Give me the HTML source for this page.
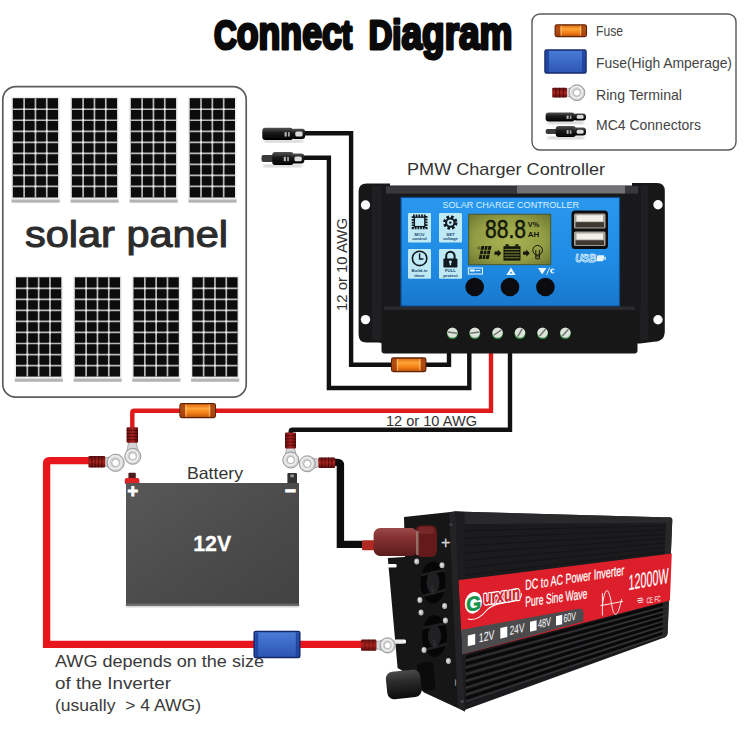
<!DOCTYPE html>
<html lang="en"><head><meta charset="utf-8"><title>Connect Diagram</title>
<style>
html,body{margin:0;padding:0;background:#fff;}
body{width:750px;height:750px;overflow:hidden;}
svg{display:block;}
text{font-family:"Liberation Sans","DejaVu Sans",sans-serif;}
</style></head><body>
<svg width="750" height="750" viewBox="0 0 750 750">
<defs>
<linearGradient id="gOr" x1="0" y1="0" x2="0" y2="1">
 <stop offset="0" stop-color="#d9660f"/><stop offset="0.35" stop-color="#ffa436"/><stop offset="0.7" stop-color="#f07d14"/><stop offset="1" stop-color="#b9500c"/>
</linearGradient>
<linearGradient id="gBlue" x1="0" y1="0" x2="0" y2="1">
 <stop offset="0" stop-color="#4a7cd6"/><stop offset="0.5" stop-color="#3a69c6"/><stop offset="1" stop-color="#2c55b0"/>
</linearGradient>
<linearGradient id="gFace" x1="0" y1="0" x2="0" y2="1">
 <stop offset="0" stop-color="#2a98ee"/><stop offset="0.6" stop-color="#1f8be4"/><stop offset="1" stop-color="#1878cc"/>
</linearGradient>
<radialGradient id="gLcd" cx="0.5" cy="0.5" r="0.7">
 <stop offset="0" stop-color="#aab454"/><stop offset="0.6" stop-color="#929d44"/><stop offset="1" stop-color="#6c7632"/>
</radialGradient>
<linearGradient id="gBat" x1="0" y1="0" x2="1" y2="1">
 <stop offset="0" stop-color="#585858"/><stop offset="0.5" stop-color="#4c4c4c"/><stop offset="1" stop-color="#424242"/>
</linearGradient>
<linearGradient id="gCrimp" x1="0" y1="0" x2="0" y2="1">
 <stop offset="0" stop-color="#5e1010"/><stop offset="0.5" stop-color="#ac2420"/><stop offset="1" stop-color="#580c0c"/>
</linearGradient>
<linearGradient id="gCrimpV" x1="0" y1="0" x2="1" y2="0">
 <stop offset="0" stop-color="#5e1010"/><stop offset="0.5" stop-color="#ac2420"/><stop offset="1" stop-color="#580c0c"/>
</linearGradient>
<linearGradient id="gKnobR" x1="0" y1="0" x2="0" y2="1">
 <stop offset="0" stop-color="#9a4a48"/><stop offset="0.35" stop-color="#853232"/><stop offset="1" stop-color="#5c1a1a"/>
</linearGradient>
<linearGradient id="gKnobB" x1="0" y1="0" x2="0" y2="1">
 <stop offset="0" stop-color="#4a4a4a"/><stop offset="0.4" stop-color="#2a2a2a"/><stop offset="1" stop-color="#0c0c0c"/>
</linearGradient>
<linearGradient id="gSide" x1="0" y1="0" x2="0" y2="1">
 <stop offset="0" stop-color="#2c2c2e"/><stop offset="1" stop-color="#161617"/>
</linearGradient>
<linearGradient id="gRed" x1="0" y1="0" x2="1" y2="0">
 <stop offset="0" stop-color="#e0202c"/><stop offset="1" stop-color="#d81c28"/>
</linearGradient>
<linearGradient id="gMc" x1="0" y1="0" x2="0" y2="1">
 <stop offset="0" stop-color="#555"/><stop offset="0.4" stop-color="#1c1c1c"/><stop offset="1" stop-color="#000"/>
</linearGradient>
<filter id="b05" x="-5%" y="-5%" width="110%" height="110%"><feGaussianBlur stdDeviation="0.5"/></filter>
<filter id="b08" x="-5%" y="-5%" width="110%" height="110%"><feGaussianBlur stdDeviation="0.8"/></filter>
<filter id="b15" x="-10%" y="-10%" width="120%" height="120%"><feGaussianBlur stdDeviation="1.5"/></filter>
</defs>
<rect width="750" height="750" fill="#ffffff"/>

<g font-weight="bold" fill="#0a0a0a" stroke="#0a0a0a" stroke-width="3.1" stroke-linejoin="round"><g transform="translate(214,48.6) scale(0.768,1)"><text x="0" y="0"><tspan font-size="41">C</tspan><tspan font-size="46.5">onnec</tspan><tspan font-size="40.5">t</tspan></text></g><g transform="translate(368.8,48.6) scale(0.796,1)"><text x="0" y="0"><tspan font-size="41">Di</tspan><tspan font-size="46.5">agram</tspan></text></g></g>
<g id="legend">
<rect x="532" y="14" width="204" height="136" rx="8" ry="8" fill="#fff" stroke="#585858" stroke-width="1.4"/>
<g><rect x="555.2" y="24.8" width="31.2" height="11.8" rx="1.8" fill="url(#gOr)" stroke="#5e2208" stroke-width="1.3"/><rect x="555.8000000000001" y="25.400000000000002" width="4.4" height="10.600000000000001" fill="#9c3a0c" opacity="0.8"/><rect x="581.4000000000001" y="25.400000000000002" width="4.4" height="10.600000000000001" fill="#9c3a0c" opacity="0.8"/><rect x="560.8000000000001" y="25.8" width="0.9" height="9.8" fill="#ffd9a0" opacity="0.7"/><rect x="579.9000000000001" y="25.8" width="0.9" height="9.8" fill="#ffd9a0" opacity="0.7"/></g>
<g><rect x="545" y="50" width="41" height="23" rx="1.5" fill="url(#gBlue)" stroke="#14296a" stroke-width="1.5"/><rect x="546" y="51" width="3" height="21" fill="#1c3f98" opacity="0.8"/><rect x="582" y="51" width="3" height="21" fill="#1c3f98" opacity="0.8"/></g>
<polygon points="566.6,95.8 566.6,89.4 577.0,85.9 576.8,99.5" fill="#d6d7d9" stroke="#9a9a9c" stroke-width="0.8"/><circle cx="576.9" cy="92.7" r="7.9" fill="#d3d4d6" stroke="#97979a" stroke-width="1"/><circle cx="576.4" cy="92.2" r="5.7" fill="none" stroke="#eeeeef" stroke-width="1.6"/><circle cx="576.9" cy="92.7" r="3.5" fill="#fff" stroke="#a2a2a4" stroke-width="0.8"/>
<rect x="552.2" y="87.8" width="14.8" height="9.8" rx="1" fill="url(#gCrimp)"/><line x1="555.9" y1="87.8" x2="555.9" y2="97.6" stroke="#3a0606" stroke-width="0.9" opacity="0.75"/><line x1="559.6" y1="87.8" x2="559.6" y2="97.6" stroke="#3a0606" stroke-width="0.9" opacity="0.75"/><line x1="563.3" y1="87.8" x2="563.3" y2="97.6" stroke="#3a0606" stroke-width="0.9" opacity="0.75"/>
<rect x="547.6" y="121.4" width="36.4" height="2.6" fill="#cfcfcf" filter="url(#b08)"/><g filter="url(#b05)"><rect x="545.6" y="112.4" width="29.1" height="9" rx="3" fill="url(#gMc)"/><rect x="573.1" y="113.4" width="12.9" height="7" rx="3" fill="url(#gMc)"/><rect x="576.7" y="115.1" width="6.9" height="3.7" rx="1.5" fill="#dcdcdc"/><rect x="566.6" y="115.6" width="2.0" height="3.3" fill="#bbb"/><rect x="569.8" y="115.6" width="1.6" height="3.3" fill="#aaa"/></g>
<rect x="547.6" y="136.6" width="36.4" height="2.6" fill="#cfcfcf" filter="url(#b08)"/><g filter="url(#b05)"><rect x="545.6" y="129.1" width="12.1" height="5" rx="2" fill="#3a3a3a"/><rect x="555.7" y="126.1" width="20.2" height="11" rx="3" fill="url(#gMc)"/><rect x="573.1" y="127.6" width="12.9" height="8" rx="3" fill="url(#gMc)"/><rect x="576.7" y="129.7" width="6.9" height="4.1" rx="1.5" fill="#dcdcdc"/><rect x="566.6" y="130.2" width="2.0" height="3.6" fill="#bbb"/><rect x="569.8" y="130.2" width="1.6" height="3.6" fill="#aaa"/></g>
<g font-size="14.3" fill="#444">
<text x="596" y="36" textLength="27" lengthAdjust="spacingAndGlyphs">Fuse</text>
<text x="596" y="68" textLength="136" lengthAdjust="spacingAndGlyphs">Fuse(High Amperage)</text>
<text x="596" y="100" textLength="86" lengthAdjust="spacingAndGlyphs">Ring Terminal</text>
<text x="596" y="130" textLength="105" lengthAdjust="spacingAndGlyphs">MC4 Connectors</text>
</g></g>
<g id="solar">
<rect x="2.8" y="86.6" width="243.4" height="310.6" rx="13" ry="13" fill="#fff" stroke="#5c5c5c" stroke-width="1.7"/>
<g><rect x="11.600000000000001" y="199.1" width="48.099999999999994" height="3.6" fill="#b4b4b4" filter="url(#b05)"/><rect x="11.200000000000001" y="96.8" width="48.5" height="102.7" fill="#ececec"/><rect x="12.8" y="98.2" width="45.3" height="99.3" fill="#0c0c0c"/><line x1="24.12" y1="98.2" x2="24.12" y2="197.5" stroke="#b9b9b9" stroke-width="1.7"/><line x1="35.45" y1="98.2" x2="35.45" y2="197.5" stroke="#b9b9b9" stroke-width="1.7"/><line x1="46.77" y1="98.2" x2="46.77" y2="197.5" stroke="#b9b9b9" stroke-width="1.7"/><line x1="12.8" y1="109.23" x2="58.099999999999994" y2="109.23" stroke="#b9b9b9" stroke-width="1.7"/><line x1="12.8" y1="120.27" x2="58.099999999999994" y2="120.27" stroke="#b9b9b9" stroke-width="1.7"/><line x1="12.8" y1="131.30" x2="58.099999999999994" y2="131.30" stroke="#b9b9b9" stroke-width="1.7"/><line x1="12.8" y1="142.33" x2="58.099999999999994" y2="142.33" stroke="#b9b9b9" stroke-width="1.7"/><line x1="12.8" y1="153.37" x2="58.099999999999994" y2="153.37" stroke="#b9b9b9" stroke-width="1.7"/><line x1="12.8" y1="164.40" x2="58.099999999999994" y2="164.40" stroke="#b9b9b9" stroke-width="1.7"/><line x1="12.8" y1="175.43" x2="58.099999999999994" y2="175.43" stroke="#b9b9b9" stroke-width="1.7"/><line x1="12.8" y1="186.47" x2="58.099999999999994" y2="186.47" stroke="#b9b9b9" stroke-width="1.7"/><rect x="23.12" y="108.23" width="2" height="2" fill="#f2f2f2"/><rect x="23.12" y="119.27" width="2" height="2" fill="#f2f2f2"/><rect x="23.12" y="130.30" width="2" height="2" fill="#f2f2f2"/><rect x="23.12" y="141.33" width="2" height="2" fill="#f2f2f2"/><rect x="23.12" y="152.37" width="2" height="2" fill="#f2f2f2"/><rect x="23.12" y="163.40" width="2" height="2" fill="#f2f2f2"/><rect x="23.12" y="174.43" width="2" height="2" fill="#f2f2f2"/><rect x="23.12" y="185.47" width="2" height="2" fill="#f2f2f2"/><rect x="34.45" y="108.23" width="2" height="2" fill="#f2f2f2"/><rect x="34.45" y="119.27" width="2" height="2" fill="#f2f2f2"/><rect x="34.45" y="130.30" width="2" height="2" fill="#f2f2f2"/><rect x="34.45" y="141.33" width="2" height="2" fill="#f2f2f2"/><rect x="34.45" y="152.37" width="2" height="2" fill="#f2f2f2"/><rect x="34.45" y="163.40" width="2" height="2" fill="#f2f2f2"/><rect x="34.45" y="174.43" width="2" height="2" fill="#f2f2f2"/><rect x="34.45" y="185.47" width="2" height="2" fill="#f2f2f2"/><rect x="45.77" y="108.23" width="2" height="2" fill="#f2f2f2"/><rect x="45.77" y="119.27" width="2" height="2" fill="#f2f2f2"/><rect x="45.77" y="130.30" width="2" height="2" fill="#f2f2f2"/><rect x="45.77" y="141.33" width="2" height="2" fill="#f2f2f2"/><rect x="45.77" y="152.37" width="2" height="2" fill="#f2f2f2"/><rect x="45.77" y="163.40" width="2" height="2" fill="#f2f2f2"/><rect x="45.77" y="174.43" width="2" height="2" fill="#f2f2f2"/><rect x="45.77" y="185.47" width="2" height="2" fill="#f2f2f2"/></g>
<g><rect x="70.6" y="199.1" width="48.099999999999994" height="3.6" fill="#b4b4b4" filter="url(#b05)"/><rect x="70.2" y="96.8" width="48.5" height="102.7" fill="#ececec"/><rect x="71.8" y="98.2" width="45.3" height="99.3" fill="#0c0c0c"/><line x1="83.12" y1="98.2" x2="83.12" y2="197.5" stroke="#b9b9b9" stroke-width="1.7"/><line x1="94.45" y1="98.2" x2="94.45" y2="197.5" stroke="#b9b9b9" stroke-width="1.7"/><line x1="105.77" y1="98.2" x2="105.77" y2="197.5" stroke="#b9b9b9" stroke-width="1.7"/><line x1="71.8" y1="109.23" x2="117.1" y2="109.23" stroke="#b9b9b9" stroke-width="1.7"/><line x1="71.8" y1="120.27" x2="117.1" y2="120.27" stroke="#b9b9b9" stroke-width="1.7"/><line x1="71.8" y1="131.30" x2="117.1" y2="131.30" stroke="#b9b9b9" stroke-width="1.7"/><line x1="71.8" y1="142.33" x2="117.1" y2="142.33" stroke="#b9b9b9" stroke-width="1.7"/><line x1="71.8" y1="153.37" x2="117.1" y2="153.37" stroke="#b9b9b9" stroke-width="1.7"/><line x1="71.8" y1="164.40" x2="117.1" y2="164.40" stroke="#b9b9b9" stroke-width="1.7"/><line x1="71.8" y1="175.43" x2="117.1" y2="175.43" stroke="#b9b9b9" stroke-width="1.7"/><line x1="71.8" y1="186.47" x2="117.1" y2="186.47" stroke="#b9b9b9" stroke-width="1.7"/><rect x="82.12" y="108.23" width="2" height="2" fill="#f2f2f2"/><rect x="82.12" y="119.27" width="2" height="2" fill="#f2f2f2"/><rect x="82.12" y="130.30" width="2" height="2" fill="#f2f2f2"/><rect x="82.12" y="141.33" width="2" height="2" fill="#f2f2f2"/><rect x="82.12" y="152.37" width="2" height="2" fill="#f2f2f2"/><rect x="82.12" y="163.40" width="2" height="2" fill="#f2f2f2"/><rect x="82.12" y="174.43" width="2" height="2" fill="#f2f2f2"/><rect x="82.12" y="185.47" width="2" height="2" fill="#f2f2f2"/><rect x="93.45" y="108.23" width="2" height="2" fill="#f2f2f2"/><rect x="93.45" y="119.27" width="2" height="2" fill="#f2f2f2"/><rect x="93.45" y="130.30" width="2" height="2" fill="#f2f2f2"/><rect x="93.45" y="141.33" width="2" height="2" fill="#f2f2f2"/><rect x="93.45" y="152.37" width="2" height="2" fill="#f2f2f2"/><rect x="93.45" y="163.40" width="2" height="2" fill="#f2f2f2"/><rect x="93.45" y="174.43" width="2" height="2" fill="#f2f2f2"/><rect x="93.45" y="185.47" width="2" height="2" fill="#f2f2f2"/><rect x="104.77" y="108.23" width="2" height="2" fill="#f2f2f2"/><rect x="104.77" y="119.27" width="2" height="2" fill="#f2f2f2"/><rect x="104.77" y="130.30" width="2" height="2" fill="#f2f2f2"/><rect x="104.77" y="141.33" width="2" height="2" fill="#f2f2f2"/><rect x="104.77" y="152.37" width="2" height="2" fill="#f2f2f2"/><rect x="104.77" y="163.40" width="2" height="2" fill="#f2f2f2"/><rect x="104.77" y="174.43" width="2" height="2" fill="#f2f2f2"/><rect x="104.77" y="185.47" width="2" height="2" fill="#f2f2f2"/></g>
<g><rect x="129.60000000000002" y="199.1" width="48.099999999999994" height="3.6" fill="#b4b4b4" filter="url(#b05)"/><rect x="129.20000000000002" y="96.8" width="48.5" height="102.7" fill="#ececec"/><rect x="130.8" y="98.2" width="45.3" height="99.3" fill="#0c0c0c"/><line x1="142.12" y1="98.2" x2="142.12" y2="197.5" stroke="#b9b9b9" stroke-width="1.7"/><line x1="153.45" y1="98.2" x2="153.45" y2="197.5" stroke="#b9b9b9" stroke-width="1.7"/><line x1="164.78" y1="98.2" x2="164.78" y2="197.5" stroke="#b9b9b9" stroke-width="1.7"/><line x1="130.8" y1="109.23" x2="176.10000000000002" y2="109.23" stroke="#b9b9b9" stroke-width="1.7"/><line x1="130.8" y1="120.27" x2="176.10000000000002" y2="120.27" stroke="#b9b9b9" stroke-width="1.7"/><line x1="130.8" y1="131.30" x2="176.10000000000002" y2="131.30" stroke="#b9b9b9" stroke-width="1.7"/><line x1="130.8" y1="142.33" x2="176.10000000000002" y2="142.33" stroke="#b9b9b9" stroke-width="1.7"/><line x1="130.8" y1="153.37" x2="176.10000000000002" y2="153.37" stroke="#b9b9b9" stroke-width="1.7"/><line x1="130.8" y1="164.40" x2="176.10000000000002" y2="164.40" stroke="#b9b9b9" stroke-width="1.7"/><line x1="130.8" y1="175.43" x2="176.10000000000002" y2="175.43" stroke="#b9b9b9" stroke-width="1.7"/><line x1="130.8" y1="186.47" x2="176.10000000000002" y2="186.47" stroke="#b9b9b9" stroke-width="1.7"/><rect x="141.12" y="108.23" width="2" height="2" fill="#f2f2f2"/><rect x="141.12" y="119.27" width="2" height="2" fill="#f2f2f2"/><rect x="141.12" y="130.30" width="2" height="2" fill="#f2f2f2"/><rect x="141.12" y="141.33" width="2" height="2" fill="#f2f2f2"/><rect x="141.12" y="152.37" width="2" height="2" fill="#f2f2f2"/><rect x="141.12" y="163.40" width="2" height="2" fill="#f2f2f2"/><rect x="141.12" y="174.43" width="2" height="2" fill="#f2f2f2"/><rect x="141.12" y="185.47" width="2" height="2" fill="#f2f2f2"/><rect x="152.45" y="108.23" width="2" height="2" fill="#f2f2f2"/><rect x="152.45" y="119.27" width="2" height="2" fill="#f2f2f2"/><rect x="152.45" y="130.30" width="2" height="2" fill="#f2f2f2"/><rect x="152.45" y="141.33" width="2" height="2" fill="#f2f2f2"/><rect x="152.45" y="152.37" width="2" height="2" fill="#f2f2f2"/><rect x="152.45" y="163.40" width="2" height="2" fill="#f2f2f2"/><rect x="152.45" y="174.43" width="2" height="2" fill="#f2f2f2"/><rect x="152.45" y="185.47" width="2" height="2" fill="#f2f2f2"/><rect x="163.78" y="108.23" width="2" height="2" fill="#f2f2f2"/><rect x="163.78" y="119.27" width="2" height="2" fill="#f2f2f2"/><rect x="163.78" y="130.30" width="2" height="2" fill="#f2f2f2"/><rect x="163.78" y="141.33" width="2" height="2" fill="#f2f2f2"/><rect x="163.78" y="152.37" width="2" height="2" fill="#f2f2f2"/><rect x="163.78" y="163.40" width="2" height="2" fill="#f2f2f2"/><rect x="163.78" y="174.43" width="2" height="2" fill="#f2f2f2"/><rect x="163.78" y="185.47" width="2" height="2" fill="#f2f2f2"/></g>
<g><rect x="188.5" y="199.1" width="48.099999999999994" height="3.6" fill="#b4b4b4" filter="url(#b05)"/><rect x="188.1" y="96.8" width="48.5" height="102.7" fill="#ececec"/><rect x="189.7" y="98.2" width="45.3" height="99.3" fill="#0c0c0c"/><line x1="201.02" y1="98.2" x2="201.02" y2="197.5" stroke="#b9b9b9" stroke-width="1.7"/><line x1="212.35" y1="98.2" x2="212.35" y2="197.5" stroke="#b9b9b9" stroke-width="1.7"/><line x1="223.67" y1="98.2" x2="223.67" y2="197.5" stroke="#b9b9b9" stroke-width="1.7"/><line x1="189.7" y1="109.23" x2="235.0" y2="109.23" stroke="#b9b9b9" stroke-width="1.7"/><line x1="189.7" y1="120.27" x2="235.0" y2="120.27" stroke="#b9b9b9" stroke-width="1.7"/><line x1="189.7" y1="131.30" x2="235.0" y2="131.30" stroke="#b9b9b9" stroke-width="1.7"/><line x1="189.7" y1="142.33" x2="235.0" y2="142.33" stroke="#b9b9b9" stroke-width="1.7"/><line x1="189.7" y1="153.37" x2="235.0" y2="153.37" stroke="#b9b9b9" stroke-width="1.7"/><line x1="189.7" y1="164.40" x2="235.0" y2="164.40" stroke="#b9b9b9" stroke-width="1.7"/><line x1="189.7" y1="175.43" x2="235.0" y2="175.43" stroke="#b9b9b9" stroke-width="1.7"/><line x1="189.7" y1="186.47" x2="235.0" y2="186.47" stroke="#b9b9b9" stroke-width="1.7"/><rect x="200.02" y="108.23" width="2" height="2" fill="#f2f2f2"/><rect x="200.02" y="119.27" width="2" height="2" fill="#f2f2f2"/><rect x="200.02" y="130.30" width="2" height="2" fill="#f2f2f2"/><rect x="200.02" y="141.33" width="2" height="2" fill="#f2f2f2"/><rect x="200.02" y="152.37" width="2" height="2" fill="#f2f2f2"/><rect x="200.02" y="163.40" width="2" height="2" fill="#f2f2f2"/><rect x="200.02" y="174.43" width="2" height="2" fill="#f2f2f2"/><rect x="200.02" y="185.47" width="2" height="2" fill="#f2f2f2"/><rect x="211.35" y="108.23" width="2" height="2" fill="#f2f2f2"/><rect x="211.35" y="119.27" width="2" height="2" fill="#f2f2f2"/><rect x="211.35" y="130.30" width="2" height="2" fill="#f2f2f2"/><rect x="211.35" y="141.33" width="2" height="2" fill="#f2f2f2"/><rect x="211.35" y="152.37" width="2" height="2" fill="#f2f2f2"/><rect x="211.35" y="163.40" width="2" height="2" fill="#f2f2f2"/><rect x="211.35" y="174.43" width="2" height="2" fill="#f2f2f2"/><rect x="211.35" y="185.47" width="2" height="2" fill="#f2f2f2"/><rect x="222.67" y="108.23" width="2" height="2" fill="#f2f2f2"/><rect x="222.67" y="119.27" width="2" height="2" fill="#f2f2f2"/><rect x="222.67" y="130.30" width="2" height="2" fill="#f2f2f2"/><rect x="222.67" y="141.33" width="2" height="2" fill="#f2f2f2"/><rect x="222.67" y="152.37" width="2" height="2" fill="#f2f2f2"/><rect x="222.67" y="163.40" width="2" height="2" fill="#f2f2f2"/><rect x="222.67" y="174.43" width="2" height="2" fill="#f2f2f2"/><rect x="222.67" y="185.47" width="2" height="2" fill="#f2f2f2"/></g>
<g><rect x="14.8" y="378.20000000000005" width="48.099999999999994" height="3.6" fill="#b4b4b4" filter="url(#b05)"/><rect x="14.4" y="275.90000000000003" width="48.5" height="102.7" fill="#ececec"/><rect x="16" y="277.3" width="45.3" height="99.3" fill="#0c0c0c"/><line x1="27.32" y1="277.3" x2="27.32" y2="376.6" stroke="#b9b9b9" stroke-width="1.7"/><line x1="38.65" y1="277.3" x2="38.65" y2="376.6" stroke="#b9b9b9" stroke-width="1.7"/><line x1="49.97" y1="277.3" x2="49.97" y2="376.6" stroke="#b9b9b9" stroke-width="1.7"/><line x1="16" y1="288.33" x2="61.3" y2="288.33" stroke="#b9b9b9" stroke-width="1.7"/><line x1="16" y1="299.37" x2="61.3" y2="299.37" stroke="#b9b9b9" stroke-width="1.7"/><line x1="16" y1="310.40" x2="61.3" y2="310.40" stroke="#b9b9b9" stroke-width="1.7"/><line x1="16" y1="321.43" x2="61.3" y2="321.43" stroke="#b9b9b9" stroke-width="1.7"/><line x1="16" y1="332.47" x2="61.3" y2="332.47" stroke="#b9b9b9" stroke-width="1.7"/><line x1="16" y1="343.50" x2="61.3" y2="343.50" stroke="#b9b9b9" stroke-width="1.7"/><line x1="16" y1="354.53" x2="61.3" y2="354.53" stroke="#b9b9b9" stroke-width="1.7"/><line x1="16" y1="365.57" x2="61.3" y2="365.57" stroke="#b9b9b9" stroke-width="1.7"/><rect x="26.32" y="287.33" width="2" height="2" fill="#f2f2f2"/><rect x="26.32" y="298.37" width="2" height="2" fill="#f2f2f2"/><rect x="26.32" y="309.40" width="2" height="2" fill="#f2f2f2"/><rect x="26.32" y="320.43" width="2" height="2" fill="#f2f2f2"/><rect x="26.32" y="331.47" width="2" height="2" fill="#f2f2f2"/><rect x="26.32" y="342.50" width="2" height="2" fill="#f2f2f2"/><rect x="26.32" y="353.53" width="2" height="2" fill="#f2f2f2"/><rect x="26.32" y="364.57" width="2" height="2" fill="#f2f2f2"/><rect x="37.65" y="287.33" width="2" height="2" fill="#f2f2f2"/><rect x="37.65" y="298.37" width="2" height="2" fill="#f2f2f2"/><rect x="37.65" y="309.40" width="2" height="2" fill="#f2f2f2"/><rect x="37.65" y="320.43" width="2" height="2" fill="#f2f2f2"/><rect x="37.65" y="331.47" width="2" height="2" fill="#f2f2f2"/><rect x="37.65" y="342.50" width="2" height="2" fill="#f2f2f2"/><rect x="37.65" y="353.53" width="2" height="2" fill="#f2f2f2"/><rect x="37.65" y="364.57" width="2" height="2" fill="#f2f2f2"/><rect x="48.97" y="287.33" width="2" height="2" fill="#f2f2f2"/><rect x="48.97" y="298.37" width="2" height="2" fill="#f2f2f2"/><rect x="48.97" y="309.40" width="2" height="2" fill="#f2f2f2"/><rect x="48.97" y="320.43" width="2" height="2" fill="#f2f2f2"/><rect x="48.97" y="331.47" width="2" height="2" fill="#f2f2f2"/><rect x="48.97" y="342.50" width="2" height="2" fill="#f2f2f2"/><rect x="48.97" y="353.53" width="2" height="2" fill="#f2f2f2"/><rect x="48.97" y="364.57" width="2" height="2" fill="#f2f2f2"/></g>
<g><rect x="73.6" y="378.20000000000005" width="48.099999999999994" height="3.6" fill="#b4b4b4" filter="url(#b05)"/><rect x="73.2" y="275.90000000000003" width="48.5" height="102.7" fill="#ececec"/><rect x="74.8" y="277.3" width="45.3" height="99.3" fill="#0c0c0c"/><line x1="86.12" y1="277.3" x2="86.12" y2="376.6" stroke="#b9b9b9" stroke-width="1.7"/><line x1="97.45" y1="277.3" x2="97.45" y2="376.6" stroke="#b9b9b9" stroke-width="1.7"/><line x1="108.77" y1="277.3" x2="108.77" y2="376.6" stroke="#b9b9b9" stroke-width="1.7"/><line x1="74.8" y1="288.33" x2="120.1" y2="288.33" stroke="#b9b9b9" stroke-width="1.7"/><line x1="74.8" y1="299.37" x2="120.1" y2="299.37" stroke="#b9b9b9" stroke-width="1.7"/><line x1="74.8" y1="310.40" x2="120.1" y2="310.40" stroke="#b9b9b9" stroke-width="1.7"/><line x1="74.8" y1="321.43" x2="120.1" y2="321.43" stroke="#b9b9b9" stroke-width="1.7"/><line x1="74.8" y1="332.47" x2="120.1" y2="332.47" stroke="#b9b9b9" stroke-width="1.7"/><line x1="74.8" y1="343.50" x2="120.1" y2="343.50" stroke="#b9b9b9" stroke-width="1.7"/><line x1="74.8" y1="354.53" x2="120.1" y2="354.53" stroke="#b9b9b9" stroke-width="1.7"/><line x1="74.8" y1="365.57" x2="120.1" y2="365.57" stroke="#b9b9b9" stroke-width="1.7"/><rect x="85.12" y="287.33" width="2" height="2" fill="#f2f2f2"/><rect x="85.12" y="298.37" width="2" height="2" fill="#f2f2f2"/><rect x="85.12" y="309.40" width="2" height="2" fill="#f2f2f2"/><rect x="85.12" y="320.43" width="2" height="2" fill="#f2f2f2"/><rect x="85.12" y="331.47" width="2" height="2" fill="#f2f2f2"/><rect x="85.12" y="342.50" width="2" height="2" fill="#f2f2f2"/><rect x="85.12" y="353.53" width="2" height="2" fill="#f2f2f2"/><rect x="85.12" y="364.57" width="2" height="2" fill="#f2f2f2"/><rect x="96.45" y="287.33" width="2" height="2" fill="#f2f2f2"/><rect x="96.45" y="298.37" width="2" height="2" fill="#f2f2f2"/><rect x="96.45" y="309.40" width="2" height="2" fill="#f2f2f2"/><rect x="96.45" y="320.43" width="2" height="2" fill="#f2f2f2"/><rect x="96.45" y="331.47" width="2" height="2" fill="#f2f2f2"/><rect x="96.45" y="342.50" width="2" height="2" fill="#f2f2f2"/><rect x="96.45" y="353.53" width="2" height="2" fill="#f2f2f2"/><rect x="96.45" y="364.57" width="2" height="2" fill="#f2f2f2"/><rect x="107.77" y="287.33" width="2" height="2" fill="#f2f2f2"/><rect x="107.77" y="298.37" width="2" height="2" fill="#f2f2f2"/><rect x="107.77" y="309.40" width="2" height="2" fill="#f2f2f2"/><rect x="107.77" y="320.43" width="2" height="2" fill="#f2f2f2"/><rect x="107.77" y="331.47" width="2" height="2" fill="#f2f2f2"/><rect x="107.77" y="342.50" width="2" height="2" fill="#f2f2f2"/><rect x="107.77" y="353.53" width="2" height="2" fill="#f2f2f2"/><rect x="107.77" y="364.57" width="2" height="2" fill="#f2f2f2"/></g>
<g><rect x="132.3" y="378.20000000000005" width="48.099999999999994" height="3.6" fill="#b4b4b4" filter="url(#b05)"/><rect x="131.9" y="275.90000000000003" width="48.5" height="102.7" fill="#ececec"/><rect x="133.5" y="277.3" width="45.3" height="99.3" fill="#0c0c0c"/><line x1="144.82" y1="277.3" x2="144.82" y2="376.6" stroke="#b9b9b9" stroke-width="1.7"/><line x1="156.15" y1="277.3" x2="156.15" y2="376.6" stroke="#b9b9b9" stroke-width="1.7"/><line x1="167.47" y1="277.3" x2="167.47" y2="376.6" stroke="#b9b9b9" stroke-width="1.7"/><line x1="133.5" y1="288.33" x2="178.8" y2="288.33" stroke="#b9b9b9" stroke-width="1.7"/><line x1="133.5" y1="299.37" x2="178.8" y2="299.37" stroke="#b9b9b9" stroke-width="1.7"/><line x1="133.5" y1="310.40" x2="178.8" y2="310.40" stroke="#b9b9b9" stroke-width="1.7"/><line x1="133.5" y1="321.43" x2="178.8" y2="321.43" stroke="#b9b9b9" stroke-width="1.7"/><line x1="133.5" y1="332.47" x2="178.8" y2="332.47" stroke="#b9b9b9" stroke-width="1.7"/><line x1="133.5" y1="343.50" x2="178.8" y2="343.50" stroke="#b9b9b9" stroke-width="1.7"/><line x1="133.5" y1="354.53" x2="178.8" y2="354.53" stroke="#b9b9b9" stroke-width="1.7"/><line x1="133.5" y1="365.57" x2="178.8" y2="365.57" stroke="#b9b9b9" stroke-width="1.7"/><rect x="143.82" y="287.33" width="2" height="2" fill="#f2f2f2"/><rect x="143.82" y="298.37" width="2" height="2" fill="#f2f2f2"/><rect x="143.82" y="309.40" width="2" height="2" fill="#f2f2f2"/><rect x="143.82" y="320.43" width="2" height="2" fill="#f2f2f2"/><rect x="143.82" y="331.47" width="2" height="2" fill="#f2f2f2"/><rect x="143.82" y="342.50" width="2" height="2" fill="#f2f2f2"/><rect x="143.82" y="353.53" width="2" height="2" fill="#f2f2f2"/><rect x="143.82" y="364.57" width="2" height="2" fill="#f2f2f2"/><rect x="155.15" y="287.33" width="2" height="2" fill="#f2f2f2"/><rect x="155.15" y="298.37" width="2" height="2" fill="#f2f2f2"/><rect x="155.15" y="309.40" width="2" height="2" fill="#f2f2f2"/><rect x="155.15" y="320.43" width="2" height="2" fill="#f2f2f2"/><rect x="155.15" y="331.47" width="2" height="2" fill="#f2f2f2"/><rect x="155.15" y="342.50" width="2" height="2" fill="#f2f2f2"/><rect x="155.15" y="353.53" width="2" height="2" fill="#f2f2f2"/><rect x="155.15" y="364.57" width="2" height="2" fill="#f2f2f2"/><rect x="166.47" y="287.33" width="2" height="2" fill="#f2f2f2"/><rect x="166.47" y="298.37" width="2" height="2" fill="#f2f2f2"/><rect x="166.47" y="309.40" width="2" height="2" fill="#f2f2f2"/><rect x="166.47" y="320.43" width="2" height="2" fill="#f2f2f2"/><rect x="166.47" y="331.47" width="2" height="2" fill="#f2f2f2"/><rect x="166.47" y="342.50" width="2" height="2" fill="#f2f2f2"/><rect x="166.47" y="353.53" width="2" height="2" fill="#f2f2f2"/><rect x="166.47" y="364.57" width="2" height="2" fill="#f2f2f2"/></g>
<g><rect x="191.10000000000002" y="378.20000000000005" width="48.099999999999994" height="3.6" fill="#b4b4b4" filter="url(#b05)"/><rect x="190.70000000000002" y="275.90000000000003" width="48.5" height="102.7" fill="#ececec"/><rect x="192.3" y="277.3" width="45.3" height="99.3" fill="#0c0c0c"/><line x1="203.62" y1="277.3" x2="203.62" y2="376.6" stroke="#b9b9b9" stroke-width="1.7"/><line x1="214.95" y1="277.3" x2="214.95" y2="376.6" stroke="#b9b9b9" stroke-width="1.7"/><line x1="226.28" y1="277.3" x2="226.28" y2="376.6" stroke="#b9b9b9" stroke-width="1.7"/><line x1="192.3" y1="288.33" x2="237.60000000000002" y2="288.33" stroke="#b9b9b9" stroke-width="1.7"/><line x1="192.3" y1="299.37" x2="237.60000000000002" y2="299.37" stroke="#b9b9b9" stroke-width="1.7"/><line x1="192.3" y1="310.40" x2="237.60000000000002" y2="310.40" stroke="#b9b9b9" stroke-width="1.7"/><line x1="192.3" y1="321.43" x2="237.60000000000002" y2="321.43" stroke="#b9b9b9" stroke-width="1.7"/><line x1="192.3" y1="332.47" x2="237.60000000000002" y2="332.47" stroke="#b9b9b9" stroke-width="1.7"/><line x1="192.3" y1="343.50" x2="237.60000000000002" y2="343.50" stroke="#b9b9b9" stroke-width="1.7"/><line x1="192.3" y1="354.53" x2="237.60000000000002" y2="354.53" stroke="#b9b9b9" stroke-width="1.7"/><line x1="192.3" y1="365.57" x2="237.60000000000002" y2="365.57" stroke="#b9b9b9" stroke-width="1.7"/><rect x="202.62" y="287.33" width="2" height="2" fill="#f2f2f2"/><rect x="202.62" y="298.37" width="2" height="2" fill="#f2f2f2"/><rect x="202.62" y="309.40" width="2" height="2" fill="#f2f2f2"/><rect x="202.62" y="320.43" width="2" height="2" fill="#f2f2f2"/><rect x="202.62" y="331.47" width="2" height="2" fill="#f2f2f2"/><rect x="202.62" y="342.50" width="2" height="2" fill="#f2f2f2"/><rect x="202.62" y="353.53" width="2" height="2" fill="#f2f2f2"/><rect x="202.62" y="364.57" width="2" height="2" fill="#f2f2f2"/><rect x="213.95" y="287.33" width="2" height="2" fill="#f2f2f2"/><rect x="213.95" y="298.37" width="2" height="2" fill="#f2f2f2"/><rect x="213.95" y="309.40" width="2" height="2" fill="#f2f2f2"/><rect x="213.95" y="320.43" width="2" height="2" fill="#f2f2f2"/><rect x="213.95" y="331.47" width="2" height="2" fill="#f2f2f2"/><rect x="213.95" y="342.50" width="2" height="2" fill="#f2f2f2"/><rect x="213.95" y="353.53" width="2" height="2" fill="#f2f2f2"/><rect x="213.95" y="364.57" width="2" height="2" fill="#f2f2f2"/><rect x="225.28" y="287.33" width="2" height="2" fill="#f2f2f2"/><rect x="225.28" y="298.37" width="2" height="2" fill="#f2f2f2"/><rect x="225.28" y="309.40" width="2" height="2" fill="#f2f2f2"/><rect x="225.28" y="320.43" width="2" height="2" fill="#f2f2f2"/><rect x="225.28" y="331.47" width="2" height="2" fill="#f2f2f2"/><rect x="225.28" y="342.50" width="2" height="2" fill="#f2f2f2"/><rect x="225.28" y="353.53" width="2" height="2" fill="#f2f2f2"/><rect x="225.28" y="364.57" width="2" height="2" fill="#f2f2f2"/></g>
<text x="25" y="247" font-size="37.5" fill="#2c2c2c" stroke="#2c2c2c" stroke-width="1.1" stroke-linejoin="round" textLength="203" lengthAdjust="spacingAndGlyphs">solar panel</text>
</g>
<g id="wires" fill="none" stroke-linejoin="miter">
<path d="M304 133.2 H351.1 V364.8 H449 V340" stroke="#111" stroke-width="4.4"/>
<path d="M303 157.8 H328.9 V388 H469.3 V340" stroke="#111" stroke-width="4.4"/>
<path d="M491 340 V410.8 H134.3 Q132.3 410.8 132.3 412.8 V430" stroke="#e01a1a" stroke-width="4.4"/>
<path d="M510 340 V429.7 H292.7 Q290.7 429.7 290.7 431.7 V436" stroke="#111" stroke-width="4.4"/>
<path d="M332 462.4 H337.4 Q340.4 462.4 340.4 465.4 V544.4 H364" stroke="#0c0c0c" stroke-width="7.4"/>
<path d="M90 460.6 H49.6 Q46.6 460.6 46.6 463.6 V644.4 H366" stroke="#e8161c" stroke-width="7.4"/>
</g>
<rect x="264.3" y="140.0" width="38.8" height="2.6" fill="#cfcfcf" filter="url(#b08)"/><g filter="url(#b05)"><rect x="262.3" y="127.8" width="30.8" height="12.2" rx="3" fill="url(#gMc)"/><rect x="291.4" y="128.8" width="13.7" height="10.2" rx="3" fill="url(#gMc)"/><rect x="295.3" y="131.6" width="7.3" height="4.8" rx="1.5" fill="#dcdcdc"/><rect x="284.6" y="132.2" width="2.1" height="4.3" fill="#bbb"/><rect x="288.0" y="132.2" width="1.7" height="4.3" fill="#aaa"/></g>
<rect x="263.5" y="164.6" width="38.8" height="2.6" fill="#cfcfcf" filter="url(#b08)"/><g filter="url(#b05)"><rect x="261.5" y="155.1" width="12.8" height="7" rx="2" fill="#3a3a3a"/><rect x="272.2" y="152.1" width="21.4" height="13" rx="3" fill="url(#gMc)"/><rect x="290.6" y="153.6" width="13.7" height="10" rx="3" fill="url(#gMc)"/><rect x="294.5" y="156.4" width="7.3" height="4.8" rx="1.5" fill="#dcdcdc"/><rect x="283.8" y="156.9" width="2.1" height="4.2" fill="#bbb"/><rect x="287.2" y="156.9" width="1.7" height="4.2" fill="#aaa"/></g>
<g><rect x="391.6" y="358" width="34.2" height="13.6" rx="1.8" fill="url(#gOr)" stroke="#5e2208" stroke-width="1.3"/><rect x="392.20000000000005" y="358.6" width="4.4" height="12.4" fill="#9c3a0c" opacity="0.8"/><rect x="420.8" y="358.6" width="4.4" height="12.4" fill="#9c3a0c" opacity="0.8"/><rect x="397.2" y="359" width="0.9" height="11.6" fill="#ffd9a0" opacity="0.7"/><rect x="419.3" y="359" width="0.9" height="11.6" fill="#ffd9a0" opacity="0.7"/></g>
<g><rect x="180" y="403.6" width="35.4" height="14" rx="1.8" fill="url(#gOr)" stroke="#5e2208" stroke-width="1.3"/><rect x="180.6" y="404.20000000000005" width="4.4" height="12.8" fill="#9c3a0c" opacity="0.8"/><rect x="210.4" y="404.20000000000005" width="4.4" height="12.8" fill="#9c3a0c" opacity="0.8"/><rect x="185.6" y="404.6" width="0.9" height="12" fill="#ffd9a0" opacity="0.7"/><rect x="208.9" y="404.6" width="0.9" height="12" fill="#ffd9a0" opacity="0.7"/></g>
<g><rect x="254.2" y="631.6" width="45.6" height="26" rx="1.5" fill="url(#gBlue)" stroke="#14296a" stroke-width="1.5"/><rect x="255.2" y="632.6" width="3" height="24" fill="#1c3f98" opacity="0.8"/><rect x="295.8" y="632.6" width="3" height="24" fill="#1c3f98" opacity="0.8"/></g>
<polygon points="128.7,442.1 135.9,441.9 139.7,456.1 125.9,456.5" fill="#d6d7d9" stroke="#9a9a9c" stroke-width="0.8"/><circle cx="132.8" cy="456.3" r="8" fill="#d3d4d6" stroke="#97979a" stroke-width="1"/><circle cx="132.3" cy="455.8" r="5.8" fill="none" stroke="#eeeeef" stroke-width="1.6"/><circle cx="132.8" cy="456.3" r="3.6" fill="#fff" stroke="#a2a2a4" stroke-width="0.8"/>
<rect x="126.6" y="427.2" width="11.4" height="15.6" rx="1" fill="url(#gCrimpV)"/><line x1="126.6" y1="430.3" x2="138.0" y2="430.3" stroke="#3a0606" stroke-width="0.9" opacity="0.75"/><line x1="126.6" y1="433.4" x2="138.0" y2="433.4" stroke="#3a0606" stroke-width="0.9" opacity="0.75"/><line x1="126.6" y1="436.6" x2="138.0" y2="436.6" stroke="#3a0606" stroke-width="0.9" opacity="0.75"/><line x1="126.6" y1="439.7" x2="138.0" y2="439.7" stroke="#3a0606" stroke-width="0.9" opacity="0.75"/>
<polygon points="104.1,465.2 104.9,458.0 116.4,455.4 114.8,470.2" fill="#d6d7d9" stroke="#9a9a9c" stroke-width="0.8"/><circle cx="115.6" cy="462.8" r="8.6" fill="#d3d4d6" stroke="#97979a" stroke-width="1"/><circle cx="115.1" cy="462.3" r="6.3999999999999995" fill="none" stroke="#eeeeef" stroke-width="1.6"/><circle cx="115.6" cy="462.8" r="3.8" fill="#fff" stroke="#a2a2a4" stroke-width="0.8"/>
<rect x="88.4" y="456" width="16.8" height="11.6" rx="1" fill="url(#gCrimp)"/><line x1="91.8" y1="456" x2="91.8" y2="467.6" stroke="#3a0606" stroke-width="0.9" opacity="0.75"/><line x1="95.1" y1="456" x2="95.1" y2="467.6" stroke="#3a0606" stroke-width="0.9" opacity="0.75"/><line x1="98.5" y1="456" x2="98.5" y2="467.6" stroke="#3a0606" stroke-width="0.9" opacity="0.75"/><line x1="101.8" y1="456" x2="101.8" y2="467.6" stroke="#3a0606" stroke-width="0.9" opacity="0.75"/>
<polygon points="287.0,447.7 294.2,447.5 297.7,459.9 283.9,460.1" fill="#d6d7d9" stroke="#9a9a9c" stroke-width="0.8"/><circle cx="290.8" cy="460" r="8" fill="#d3d4d6" stroke="#97979a" stroke-width="1"/><circle cx="290.3" cy="459.5" r="5.8" fill="none" stroke="#eeeeef" stroke-width="1.6"/><circle cx="290.8" cy="460" r="3.6" fill="#fff" stroke="#a2a2a4" stroke-width="0.8"/>
<rect x="285" y="432.4" width="11" height="16" rx="1" fill="url(#gCrimpV)"/><line x1="285" y1="435.6" x2="296" y2="435.6" stroke="#3a0606" stroke-width="0.9" opacity="0.75"/><line x1="285" y1="438.8" x2="296" y2="438.8" stroke="#3a0606" stroke-width="0.9" opacity="0.75"/><line x1="285" y1="442.0" x2="296" y2="442.0" stroke="#3a0606" stroke-width="0.9" opacity="0.75"/><line x1="285" y1="445.2" x2="296" y2="445.2" stroke="#3a0606" stroke-width="0.9" opacity="0.75"/>
<polygon points="318.7,459.4 319.3,466.2 307.9,470.7 306.7,456.9" fill="#d6d7d9" stroke="#9a9a9c" stroke-width="0.8"/><circle cx="307.3" cy="463.8" r="8" fill="#d3d4d6" stroke="#97979a" stroke-width="1"/><circle cx="306.8" cy="463.3" r="5.8" fill="none" stroke="#eeeeef" stroke-width="1.6"/><circle cx="307.3" cy="463.8" r="3.6" fill="#fff" stroke="#a2a2a4" stroke-width="0.8"/>
<rect x="318.4" y="457.4" width="16.8" height="10.6" rx="1" fill="url(#gCrimp)"/><line x1="321.8" y1="457.4" x2="321.8" y2="468.0" stroke="#3a0606" stroke-width="0.9" opacity="0.75"/><line x1="325.1" y1="457.4" x2="325.1" y2="468.0" stroke="#3a0606" stroke-width="0.9" opacity="0.75"/><line x1="328.5" y1="457.4" x2="328.5" y2="468.0" stroke="#3a0606" stroke-width="0.9" opacity="0.75"/><line x1="331.8" y1="457.4" x2="331.8" y2="468.0" stroke="#3a0606" stroke-width="0.9" opacity="0.75"/>
<text transform="translate(346.8,311) rotate(-90)" font-size="14" fill="#333" textLength="93" lengthAdjust="spacingAndGlyphs">12 or 10 AWG</text>
<text x="386" y="425.5" font-size="14" fill="#333" textLength="91" lengthAdjust="spacingAndGlyphs">12 or 10 AWG</text>
<g id="battery">
<rect x="128.4" y="472.8" width="7.4" height="6.4" rx="1" fill="#4a1c1c"/>
<rect x="124.8" y="478" width="14.6" height="6.4" rx="2" fill="#dc2222"/>
<rect x="287.4" y="473" width="9.6" height="11" rx="1" fill="#333"/><rect x="290.4" y="474.6" width="3.4" height="2.6" fill="#9a9a9a"/>
<rect x="126" y="483" width="173" height="123" fill="url(#gBat)"/>
<rect x="126" y="604" width="173" height="3" fill="#9a9a9a" opacity="0.6" filter="url(#b08)"/>
<text x="193.2" y="551.2" font-size="21.6" font-weight="bold" fill="#fff" stroke="#fff" stroke-width="0.3" textLength="38" lengthAdjust="spacingAndGlyphs">12V</text>
<text x="132.8" y="496.8" font-size="18" font-weight="bold" fill="#fff" stroke="#fff" stroke-width="1" text-anchor="middle">+</text>
<text x="290.2" y="497.2" font-size="19" font-weight="bold" fill="#fff" stroke="#fff" stroke-width="1" text-anchor="middle">−</text>
<text x="187" y="479" font-size="16.5" fill="#333" textLength="56" lengthAdjust="spacingAndGlyphs">Battery</text>
</g>
<g font-size="16.2" fill="#3a3a3a">
<text x="55" y="667" textLength="209" lengthAdjust="spacingAndGlyphs">AWG depends on the size</text>
<text x="55" y="688.5" textLength="116" lengthAdjust="spacingAndGlyphs">of the Inverter</text>
<text x="55" y="711" xml:space="preserve" textLength="146" lengthAdjust="spacingAndGlyphs">(usually  &gt; 4 AWG)</text>
</g>
<g id="controller">
<text x="407" y="175" font-size="16.6" fill="#333" textLength="198" lengthAdjust="spacingAndGlyphs">PMW Charger Controller</text>
<path d="M366.6 183.6 H390 V343.6 H382 Q381 342.6 378 342.6 H366.6 Q358.6 342.6 358.6 334.6 V191.6 Q358.6 183.6 366.6 183.6 Z" fill="#171718"/>
<path d="M632 183 H657 Q664.8 183 664.8 191 V331 Q664.8 341.4 654 341.8 L640 343.4 H632 Z" fill="#171718"/>
<rect x="372" y="186" width="10" height="154" fill="#242426" opacity="0.8" filter="url(#b08)"/>
<rect x="640" y="186" width="8" height="154" fill="#242426" opacity="0.8" filter="url(#b08)"/>
<rect x="383" y="185.6" width="258" height="124" rx="3" fill="#19191b"/>
<rect x="386" y="186.2" width="252" height="7.4" fill="#39393b"/>
<rect x="517" y="186" width="108" height="7.4" fill="#727274" filter="url(#b05)"/>
<rect x="381.5" y="306" width="256" height="47.5" rx="3" fill="#171718"/>
<rect x="384" y="306.5" width="251" height="3.5" fill="#2c2c2e" filter="url(#b05)"/>
<circle cx="365.5" cy="205" r="4.7" fill="#fbfbfb"/>
<circle cx="365.5" cy="319.6" r="4.7" fill="#fbfbfb"/>
<circle cx="658" cy="204.7" r="4.7" fill="#fbfbfb"/>
<circle cx="658" cy="319.7" r="4.7" fill="#fbfbfb"/>
<rect x="401" y="197.5" width="218.5" height="108.5" fill="url(#gFace)" stroke="#0d4f94" stroke-width="1.2"/>
<text x="442.5" y="207.6" font-size="8.6" fill="#d8f2ff" textLength="136.5" lengthAdjust="spacingAndGlyphs">SOLAR CHARGE CONTROLLER</text>
<rect x="408" y="213" width="23" height="29.5" rx="1.2" fill="#bfe9f4"/>
<text x="419.5" y="235.9" font-size="4.3" font-weight="bold" fill="#15466e" text-anchor="middle">MCU</text>
<text x="419.5" y="240.3" font-size="4.3" font-weight="bold" fill="#15466e" text-anchor="middle">control</text>
<rect x="439" y="213" width="23" height="29.5" rx="1.2" fill="#bfe9f4"/>
<text x="450.5" y="235.9" font-size="4.3" font-weight="bold" fill="#15466e" text-anchor="middle">SET</text>
<text x="450.5" y="240.3" font-size="4.3" font-weight="bold" fill="#15466e" text-anchor="middle">voltage</text>
<rect x="408" y="249" width="23" height="29.8" rx="1.2" fill="#bfe9f4"/>
<text x="419.5" y="272.2" font-size="4.3" font-weight="bold" fill="#15466e" text-anchor="middle">Build-in</text>
<text x="419.5" y="276.6" font-size="4.3" font-weight="bold" fill="#15466e" text-anchor="middle">timer</text>
<rect x="439" y="249" width="23" height="29.8" rx="1.2" fill="#bfe9f4"/>
<text x="450.5" y="272.2" font-size="4.3" font-weight="bold" fill="#15466e" text-anchor="middle">FULL</text>
<text x="450.5" y="276.6" font-size="4.3" font-weight="bold" fill="#15466e" text-anchor="middle">protect</text>
<g stroke="#101820" fill="none">
<rect x="413" y="215.8" width="13.2" height="12.2" stroke-width="2.6" stroke-dasharray="1.7 1"/>
<rect x="414.4" y="217.2" width="10.4" height="9.4" stroke-width="1.3"/>
</g>
<g>
<circle cx="450.3" cy="222.6" r="5.6" fill="none" stroke="#101820" stroke-width="3.2" stroke-dasharray="2.5 1.9"/>
<circle cx="450.3" cy="222.6" r="4.2" fill="none" stroke="#101820" stroke-width="2"/>
<circle cx="450.3" cy="222.6" r="1.2" fill="#101820"/>
</g>
<g fill="none" stroke="#101820">
<circle cx="419.6" cy="258.4" r="7.2" stroke-width="1.6"/>
<path d="M419.6 253.4 V259 H423.4" stroke-width="1.4"/>
</g>
<g>
<path d="M446.2 259.6 V256 a4.2 4.2 0 0 1 8.4 0 V259.6" fill="none" stroke="#101820" stroke-width="2"/>
<rect x="443.4" y="258.6" width="14" height="9" rx="0.8" fill="#101820"/>
<circle cx="450.4" cy="262" r="1.4" fill="#bfe9f4"/><rect x="449.7" y="262" width="1.4" height="3.2" fill="#bfe9f4"/>
</g>
<rect x="468.7" y="214.3" width="82" height="50.4" fill="url(#gLcd)" stroke="#4c5626" stroke-width="1"/>
<text x="485" y="237.8" font-family='"Liberation Mono","DejaVu Sans Mono",monospace' font-size="25" fill="#14180a" stroke="#14180a" stroke-width="0.5" textLength="41" lengthAdjust="spacingAndGlyphs">88.8</text>
<text x="527.8" y="227.4" font-size="7.6" font-weight="bold" fill="#14180a" textLength="11.5" lengthAdjust="spacingAndGlyphs">V%</text>
<text x="527.8" y="237.2" font-size="7.6" font-weight="bold" fill="#14180a" textLength="11.5" lengthAdjust="spacingAndGlyphs">AH</text>
<g fill="#14180a" stroke="none">
<g transform="translate(481.5,246) skewX(-12)"><rect x="0" y="0" width="10" height="13" fill="#14180a"/><g stroke="#9aa548" stroke-width="0.7"><line x1="3.3" y1="0" x2="3.3" y2="13"/><line x1="6.6" y1="0" x2="6.6" y2="13"/><line x1="0" y1="4.3" x2="10" y2="4.3"/><line x1="0" y1="8.6" x2="10" y2="8.6"/></g></g>
<circle cx="478.8" cy="248" r="1.3" fill="none" stroke="#2a3014" stroke-width="0.6"/>
<path d="M494.5 251.6 h3.2 v-2 l3.6 3.6 l-3.6 3.6 v-2 h-3.2 z"/>
<path d="M523 251.6 h3.2 v-2 l3.6 3.6 l-3.6 3.6 v-2 h-3.2 z"/>
<rect x="503.5" y="246.2" width="17" height="14.4" fill="#14180a"/>
<rect x="505.5" y="244.3" width="3.2" height="2" /><rect x="515.3" y="244.3" width="3.2" height="2"/>
<g stroke="#9aa548" stroke-width="0.8"><line x1="504.5" y1="249.4" x2="519.5" y2="249.4"/><line x1="504.5" y1="252.2" x2="519.5" y2="252.2"/><line x1="504.5" y1="255" x2="519.5" y2="255"/><line x1="504.5" y1="257.8" x2="519.5" y2="257.8"/></g>
</g>
<g fill="none" stroke="#14180a" stroke-width="1"><circle cx="537.6" cy="250.2" r="4.8"/><path d="M535.8 250 v8.8 h3.6 v-8.8"/><line x1="535.8" y1="256" x2="539.4" y2="256"/></g>
<rect x="571.5" y="210.5" width="36.5" height="38.5" rx="3.5" fill="#0e0e10"/>
<rect x="574" y="213.5" width="31.5" height="15" rx="1.5" fill="#a9a49a"/>
<rect x="574" y="231.5" width="31.5" height="14.5" rx="1.5" fill="#a9a49a"/>
<rect x="576.5" y="215.2" width="26.5" height="6.2" fill="#f1efe9"/>
<rect x="576.5" y="233.5" width="26.5" height="6" fill="#f1efe9"/>
<rect x="575.5" y="222.2" width="28.5" height="5.2" fill="#3c3830"/>
<rect x="575.5" y="240.3" width="28.5" height="4.8" fill="#3c3830"/>
<text x="575.2" y="261.6" font-size="10.8" font-weight="bold" font-style="italic" fill="none" stroke="#e6f6ff" stroke-width="0.75" textLength="21" lengthAdjust="spacingAndGlyphs">USB</text>
<rect x="596.8" y="255.2" width="7" height="6" rx="0.8" fill="#e6f6ff" transform="skewX(-10)" style="transform-box:fill-box;transform-origin:center"/>
<rect x="604.4" y="256.8" width="1.4" height="3" fill="#e6f6ff"/>
<g fill="#eaf8ff" stroke="none">
<rect x="468.3" y="268" width="14.2" height="6" fill="none" stroke="#eaf8ff" stroke-width="1"/><rect x="469.8" y="269.4" width="5" height="2.2"/><rect x="475.6" y="270" width="4.8" height="1.2"/>
<path d="M506.3 275 L511 267.6 L515.7 275 Z"/>
<path d="M538 268 L546.4 268 L542.2 274.6 Z"/>
<path d="M546.6 274.8 L549.6 267.8" stroke="#eaf8ff" stroke-width="0.9"/>
<circle cx="552.6" cy="271" r="2.4"/>
</g>
<circle cx="511" cy="272.8" r="0.9" fill="#1f8be4"/>
<circle cx="553.6" cy="271" r="1.6" fill="#1f8be4"/>
<circle cx="474.7" cy="287" r="9.3" fill="#0c0c10"/>
<circle cx="510" cy="287" r="9.3" fill="#0c0c10"/>
<circle cx="545.4" cy="287" r="9.3" fill="#0c0c10"/>
<circle cx="452.4" cy="333.4" r="6.3" fill="#0a0a0a"/>
<circle cx="452.4" cy="333.6" r="5.7" fill="#2f7a3c"/>
<circle cx="452.4" cy="332.6" r="5.2" fill="#dde2da"/>
<path d="M447.8 332.0 L457.0 333.2" stroke="#6e776e" stroke-width="1.5"/>
<circle cx="474.8" cy="333.4" r="6.3" fill="#0a0a0a"/>
<circle cx="474.8" cy="333.6" r="5.7" fill="#2f7a3c"/>
<circle cx="474.8" cy="332.6" r="5.2" fill="#dde2da"/>
<path d="M470.2 333.2 L479.4 332.0" stroke="#6e776e" stroke-width="1.5"/>
<circle cx="497.6" cy="333.4" r="6.3" fill="#0a0a0a"/>
<circle cx="497.6" cy="333.6" r="5.7" fill="#2f7a3c"/>
<circle cx="497.6" cy="332.6" r="5.2" fill="#dde2da"/>
<path d="M493.8 335.2 L501.4 330.0" stroke="#6e776e" stroke-width="1.5"/>
<circle cx="520" cy="333.4" r="6.3" fill="#0a0a0a"/>
<circle cx="520" cy="333.6" r="5.7" fill="#2f7a3c"/>
<circle cx="520" cy="332.6" r="5.2" fill="#dde2da"/>
<path d="M517.7 336.6 L522.3 328.6" stroke="#6e776e" stroke-width="1.5"/>
<circle cx="542.6" cy="333.4" r="6.3" fill="#0a0a0a"/>
<circle cx="542.6" cy="333.6" r="5.7" fill="#2f7a3c"/>
<circle cx="542.6" cy="332.6" r="5.2" fill="#dde2da"/>
<path d="M539.6 336.1 L545.6 329.1" stroke="#6e776e" stroke-width="1.5"/>
<circle cx="565.4" cy="333.4" r="6.3" fill="#0a0a0a"/>
<circle cx="565.4" cy="333.6" r="5.7" fill="#2f7a3c"/>
<circle cx="565.4" cy="332.6" r="5.2" fill="#dde2da"/>
<path d="M562.3 336.0 L568.5 329.2" stroke="#6e776e" stroke-width="1.5"/>
</g>
<g id="inverter">
<path d="M455 511.5 L670 517.5 Q672.5 517.6 672.3 520 L667.6 633 Q667.4 636.3 664.5 637.4 L463 710.5 Z" fill="#1b1b1d"/>
<path d="M455 511.5 L671 517.6 L670.8 523 L455.5 524 Z" fill="#2b2b2e" opacity="0.9"/>
<line x1="464" y1="530.7" x2="668" y2="525.6" stroke="#0b0b0c" stroke-width="1.4" opacity="0.35"/>
<line x1="464" y1="538.1" x2="668" y2="529.9" stroke="#0b0b0c" stroke-width="1.4" opacity="0.35"/>
<line x1="464" y1="545.6" x2="668" y2="534.2" stroke="#0b0b0c" stroke-width="1.4" opacity="0.35"/>
<line x1="464" y1="553.0" x2="668" y2="538.5" stroke="#0b0b0c" stroke-width="1.4" opacity="0.35"/>
<line x1="464" y1="560.4" x2="668" y2="542.8" stroke="#0b0b0c" stroke-width="1.4" opacity="0.35"/>
<line x1="464" y1="567.9" x2="668" y2="547.1" stroke="#0b0b0c" stroke-width="1.4" opacity="0.35"/>
<line x1="464" y1="575.3" x2="668" y2="551.4" stroke="#0b0b0c" stroke-width="1.4" opacity="0.35"/>
<line x1="465" y1="657.4" x2="667" y2="603.6" stroke="#060607" stroke-width="2.6" opacity="0.9"/>
<line x1="465" y1="660.7" x2="667" y2="605.9" stroke="#37373a" stroke-width="1.5" opacity="0.9"/>
<line x1="465" y1="664.3" x2="667" y2="608.4" stroke="#060607" stroke-width="2.6" opacity="0.9"/>
<line x1="465" y1="667.6" x2="667" y2="610.7" stroke="#37373a" stroke-width="1.5" opacity="0.9"/>
<line x1="465" y1="671.1" x2="667" y2="613.1" stroke="#060607" stroke-width="2.6" opacity="0.9"/>
<line x1="465" y1="674.4" x2="667" y2="615.4" stroke="#37373a" stroke-width="1.5" opacity="0.9"/>
<line x1="465" y1="678.0" x2="667" y2="617.8" stroke="#060607" stroke-width="2.6" opacity="0.9"/>
<line x1="465" y1="681.3" x2="667" y2="620.1" stroke="#37373a" stroke-width="1.5" opacity="0.9"/>
<line x1="465" y1="684.8" x2="667" y2="622.5" stroke="#060607" stroke-width="2.6" opacity="0.9"/>
<line x1="465" y1="688.1" x2="667" y2="624.8" stroke="#37373a" stroke-width="1.5" opacity="0.9"/>
<line x1="465" y1="691.7" x2="667" y2="627.2" stroke="#060607" stroke-width="2.6" opacity="0.9"/>
<line x1="465" y1="695.0" x2="667" y2="629.5" stroke="#37373a" stroke-width="1.5" opacity="0.9"/>
<line x1="465" y1="698.5" x2="667" y2="631.9" stroke="#060607" stroke-width="2.6" opacity="0.9"/>
<line x1="465" y1="701.8" x2="667" y2="634.2" stroke="#37373a" stroke-width="1.5" opacity="0.9"/>
<path d="M455 511.5 L464.5 512 L466 709.4 L463 710.5 Z" fill="#1d1d1f"/>
<path d="M666 517.4 L670 517.5 Q672.5 517.6 672.3 520 L667.6 633 Q667.4 636.3 664.5 637.4 L662 638.3 Z" fill="#2a2a2c" opacity="0.85"/>
<path d="M457.4 580.3 L671.8 553.6 L669.9 600.6 L457.4 655.7 Z" fill="#dc1f2b"/>
<path d="M457.4 630.6 L577 609 Q583.6 608 583.6 613.5 L583.2 621.6 L457.4 655.7 Z" fill="#4b4b4d"/>
<g transform="translate(465,614) skewY(-8)">
<ellipse cx="8.4" cy="-10" rx="8.6" ry="10.8" fill="#fff"/>
<path d="M3 5.5 Q13 9 21 0 Q26 -5.4 36 -5.6 L52 -6.4 Q57 -8 56.4 -13" fill="none" stroke="#fff" stroke-width="1.1"/>
<text x="18.4" y="-6.8" font-size="19" font-weight="bold" fill="#fff" stroke="#fff" stroke-width="3" stroke-linejoin="round" textLength="36.6" lengthAdjust="spacingAndGlyphs">urxun</text>
<text x="1.2" y="-2.4" font-size="20" font-weight="bold" fill="#14924a" stroke="#14924a" stroke-width="0.7" textLength="14.8" lengthAdjust="spacingAndGlyphs">G</text>
<text x="18.4" y="-6.8" font-size="19" font-weight="bold" fill="#d8202a" stroke="#a8101a" stroke-width="0.4" textLength="36.6" lengthAdjust="spacingAndGlyphs">urxun</text>
</g>
<g fill="#fff">
<text transform="translate(525.3,590) skewY(-8.6)" font-size="14.2" stroke="#fff" stroke-width="0.25" textLength="99" lengthAdjust="spacingAndGlyphs">DC to AC Power Inverter</text>
<text transform="translate(525.3,606.8) skewY(-7.8)" font-size="14.2" stroke="#fff" stroke-width="0.25" textLength="62" lengthAdjust="spacingAndGlyphs">Pure Sine Wave</text>
<text transform="translate(628.6,590.2) skewY(-10.5)" font-size="21.5" stroke="#fff" stroke-width="0.2" textLength="40" lengthAdjust="spacingAndGlyphs">12000W</text>
<text transform="translate(646.4,603.6) skewY(-10)" font-size="8" textLength="14.4" lengthAdjust="spacingAndGlyphs">CE FC</text>
</g>
<path d="M637 600.4 h6.4 M638 598.4 h4.8 M638 602.4 h4.8" stroke="#fff" stroke-width="1" fill="none" transform="rotate(-10 640 600)"/>
<g fill="none" stroke="#fff" stroke-width="0.9"><path d="M602.4 615.6 V593"/><path d="M600.6 605.6 L623 601.4"/><path d="M602.4 605.4 C605 586 608.5 586 611.5 603.6 C614 620 618 617 621.6 599"/></g>
<g transform="translate(467.8,646.2) skewY(-12.4)" fill="#fff">
<rect x="0" y="-10.8" width="7.4" height="10.8"/>
<text x="11" y="-1.4" font-size="12.8" textLength="15.6" lengthAdjust="spacingAndGlyphs">12V</text>
<rect x="32.5" y="-11" width="7" height="10.6"/>
<text x="42" y="-2" font-size="12.6" textLength="14.6" lengthAdjust="spacingAndGlyphs">24V</text>
<rect x="62.2" y="-10.8" width="6.6" height="10"/>
<text x="70.2" y="-2.4" font-size="12" textLength="13" lengthAdjust="spacingAndGlyphs">48V</text>
<rect x="88.2" y="-10.6" width="6.2" height="9.4"/>
<text x="95.6" y="-2.8" font-size="11.4" textLength="12.4" lengthAdjust="spacingAndGlyphs">60V</text>
</g>
<path d="M404 517 L455 511.5 L465 711.5 L424 692.5 L402 670.5 L397.6 668 L387.8 558 L405 557 Z" fill="#161617"/>
<path d="M449 512.2 L455 511.5 L465 711.5 L458 707.5 Z" fill="#232325"/>
<rect x="387.6" y="564" width="9" height="3.4" rx="1.2" fill="#fff"/>
<rect x="394" y="639.4" width="12" height="4" rx="1.5" fill="#fff"/>
<ellipse cx="433" cy="582.5" rx="12.5" ry="21" fill="#060606"/>
<ellipse cx="434.5" cy="636" rx="12.5" ry="21" fill="#060606"/>
<ellipse cx="433" cy="582.5" rx="6.5" ry="11" fill="#202022"/>
<ellipse cx="434.5" cy="636" rx="6.5" ry="11" fill="#202022"/>
<g stroke="#1f1f21" stroke-width="2.6"><path d="M421 575 L445 570"/><path d="M422 596 L445.5 590"/><path d="M423 628 L447 623"/><path d="M424 650 L447 644"/></g>
<text transform="translate(430,586) rotate(80)" font-size="4.6" fill="#3a3a3c">FAN</text>
<text transform="translate(432,640) rotate(80)" font-size="4.6" fill="#3a3a3c">FAN</text>
<ellipse cx="416.7" cy="561.5" rx="2.5" ry="3" fill="#b9b9bb"/>
<ellipse cx="416.3" cy="560.9" rx="1.2" ry="1.5" fill="#e4e4e6"/>
<ellipse cx="442" cy="565.3" rx="2.5" ry="3" fill="#b9b9bb"/>
<ellipse cx="441.6" cy="564.6999999999999" rx="1.2" ry="1.5" fill="#e4e4e6"/>
<ellipse cx="419.8" cy="600" rx="2.5" ry="3" fill="#b9b9bb"/>
<ellipse cx="419.40000000000003" cy="599.4" rx="1.2" ry="1.5" fill="#e4e4e6"/>
<ellipse cx="444.6" cy="606" rx="2.5" ry="3" fill="#b9b9bb"/>
<ellipse cx="444.20000000000005" cy="605.4" rx="1.2" ry="1.5" fill="#e4e4e6"/>
<ellipse cx="421" cy="612.6" rx="2.5" ry="3" fill="#b9b9bb"/>
<ellipse cx="420.6" cy="612.0" rx="1.2" ry="1.5" fill="#e4e4e6"/>
<ellipse cx="445.4" cy="620.5" rx="2.5" ry="3" fill="#b9b9bb"/>
<ellipse cx="445.0" cy="619.9" rx="1.2" ry="1.5" fill="#e4e4e6"/>
<ellipse cx="424" cy="650" rx="2.5" ry="3" fill="#b9b9bb"/>
<ellipse cx="423.6" cy="649.4" rx="1.2" ry="1.5" fill="#e4e4e6"/>
<ellipse cx="448.4" cy="661" rx="2.5" ry="3" fill="#b9b9bb"/>
<ellipse cx="448.0" cy="660.4" rx="1.2" ry="1.5" fill="#e4e4e6"/>
<circle cx="451" cy="524.6" r="1.7" fill="#3c3c3e"/><circle cx="462.2" cy="701.4" r="1.6" fill="#4a4a4c"/>
<text x="445.7" y="547.6" font-size="16" fill="#d2d2d2" stroke="#d2d2d2" stroke-width="0.3" text-anchor="middle">+</text>
<text transform="translate(451.2,682.6) rotate(90)" font-size="13" fill="#a2a2a4" text-anchor="middle">−</text>
<g>
<rect x="362" y="540.2" width="12.5" height="10" rx="1.5" fill="#b02a22"/>
<rect x="415.5" y="525.6" width="21.5" height="31.5" rx="6" fill="#641a1a"/>
<rect x="418" y="527" width="16" height="7" rx="3.5" fill="#7c2a2a" opacity="0.8"/>
<rect x="373.6" y="528" width="44" height="28" rx="6.5" fill="url(#gKnobR)"/>
<rect x="416" y="531" width="2.6" height="24" fill="#a58a80" opacity="0.7"/>
</g>
<g transform="rotate(-6 410 684)">
<rect x="419" y="664" width="16" height="28" rx="4" fill="#0b0b0b"/>
<rect x="386.5" y="670" width="34.5" height="27.5" rx="7" fill="url(#gKnobB)"/>
</g>
</g>
<g id="inv-term">
<polygon points="376,642 376,648.6 387,652 387,638.6" fill="#d6d7d9" stroke="#9a9a9c" stroke-width="0.8"/>
<rect x="393" y="640" width="11" height="3.4" rx="1.4" fill="#ececee"/>
<circle cx="387.6" cy="645.4" r="7.6" fill="#d3d4d6" stroke="#97979a" stroke-width="1"/>
<circle cx="387.2" cy="645" r="5.4" fill="none" stroke="#eeeeef" stroke-width="1.5"/>
<circle cx="387.6" cy="645.4" r="3.4" fill="#fff" stroke="#a2a2a4" stroke-width="0.8"/>
<rect x="361" y="639.4" width="15.4" height="11.4" rx="1" fill="url(#gCrimp)"/>
<path d="M365 639.6 v11 M369 639.6 v11 M373 639.6 v11" stroke="#5a0c0c" stroke-width="0.8" opacity="0.7"/>
</g>

</svg></body></html>
